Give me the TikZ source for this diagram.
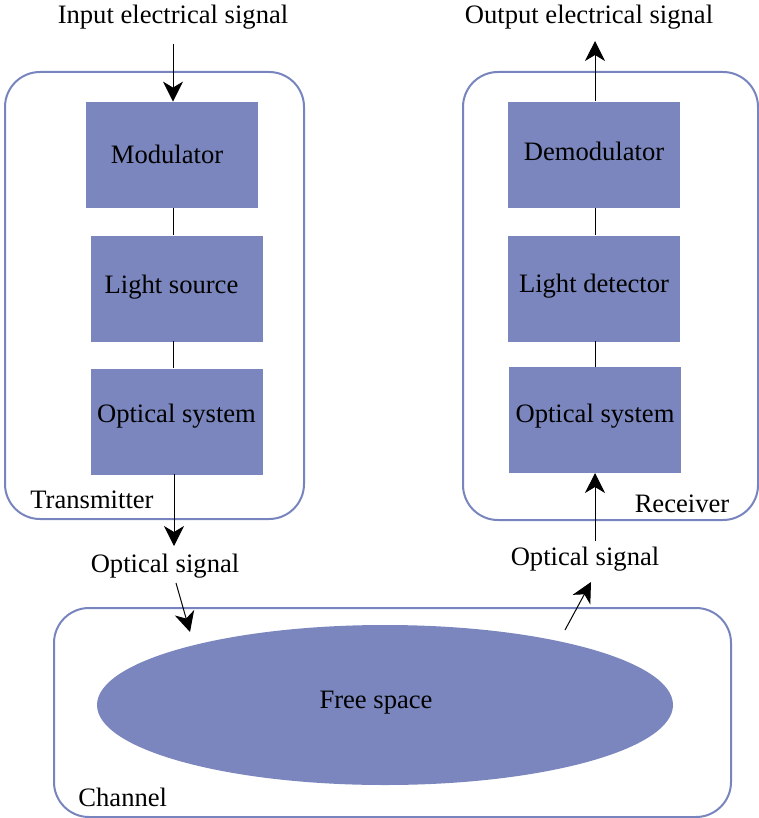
\documentclass[tikz,border=0pt]{standalone}
\usepackage{fontspec}
\setmainfont{Liberation Serif}
\newfontfamily\diagfont{Liberation Serif}
\usetikzlibrary{arrows.meta}
\definecolor{boxfill}{RGB}{122,134,189}
\definecolor{frame}{RGB}{120,132,190}
\newcommand\mytxt[3]{\hspace*{#1}\raisebox{#2}[\height][\depth]{#3}}
\tikzset{
  txt/.style={font=\diagfont\fontsize{13.3}{15}\selectfont, inner sep=1pt},
  block/.style={txt, fill=boxfill, draw=none, minimum width=86pt, minimum height=53pt},
  group/.style={draw=frame, line width=1pt, rounded corners=17.5pt},
  conn/.style={draw=black, line width=0.5pt},
  arr/.style={conn, -{Stealth[length=10pt,width=10pt,inset=3pt]}},
}
\begin{document}
\begin{tikzpicture}[x=0.5pt,y=-0.5pt]
\useasboundingbox (0,0) rectangle (759,818);
% groups
\draw[group] (5,72) rectangle (304,519);
\draw[group] (463,72) rectangle (758,520);
\draw[group] (54,608) rectangle (731,817);
% transmitter
\node[txt] (in) at (173,17) {Input electrical signal};
\node[block] (mod) at (172,155) {\mytxt{-5pt}{0.5pt}{Modulator}};
\node[block] (ls) at (176.5,288.5) {\mytxt{-5pt}{0.5pt}{Light source}};
\node[block] (ost) at (176.5,421.5) {\mytxt{0pt}{2.5pt}{Optical system}};
\node[txt, anchor=west] (tx) at (28,500) {Transmitter};
\node[txt] (os1) at (165,566) {Optical signal};
% receiver
\node[txt] (out) at (589,17) {Output electrical signal};
\node[block] (dem) at (594,155) {\mytxt{0pt}{2pt}{Demodulator}};
\node[block] (ld) at (594,288.5) {\mytxt{0pt}{1.2pt}{Light detector}};
\node[block] (osr) at (595,420) {\mytxt{0pt}{2pt}{Optical system}};
\node[txt] (rx) at (682,504) {Receiver};
\node[txt] (os2) at (585,559) {Optical signal};
% channel
\draw[fill=boxfill, draw=none] (385,705) ellipse [x radius=288, y radius=80];
\node[txt] (fs) at (376,703) {Free space};
\node[txt, anchor=west] (ch) at (76,797) {Channel};
\coordinate (cin) at (190,632);
\coordinate (cout) at (565,630);
% connectors
\draw[arr] (173,44) coordinate (inp) -- (mod.north -| inp);
\draw[conn] (173,208) coordinate (a1) -- (a1 |- ls.north);
\draw[conn] (173,341) coordinate (a2) -- (a2 |- ost.north);
\draw[arr] (174,474) coordinate (a3) -- (174,546);
\draw[arr] (176,583) -- (cin);
\draw[conn] (595,208) coordinate (b1) -- (b1 |- ld.north);
\draw[conn] (595,341) coordinate (b2) -- (b2 |- osr.north);
\draw[arr] (595,101) coordinate (b0) -- (595,41);
\draw[arr] (595,541) -- (595,473);
\draw[arr] (cout) -- (591,582);
\end{tikzpicture}
\end{document}
